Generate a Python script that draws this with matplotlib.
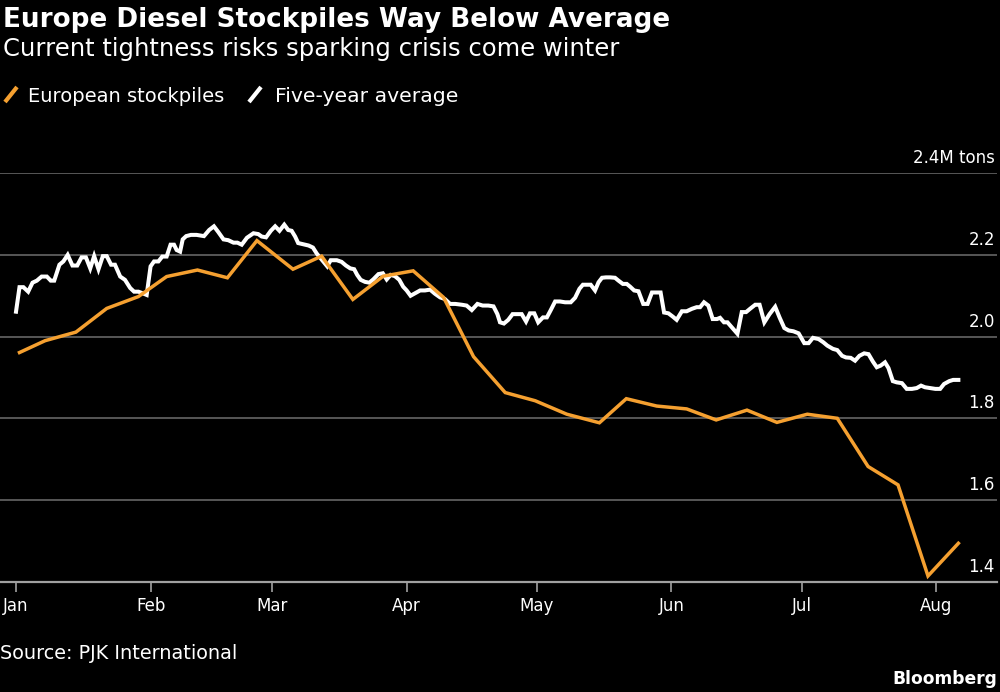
import numpy as np
import pandas as pd
import matplotlib
matplotlib.use("Agg")
import matplotlib.pyplot as plt
from matplotlib.lines import Line2D
import matplotlib.transforms as mtransforms

plt.rcParams["font.family"] = ["DejaVu Sans"]

# ---------------- data ----------------
title = "Europe Diesel Stockpiles Way Below Average"
subtitle = "Current tightness risks sparking crisis come winter"
series_names = ["European stockpiles", "Five-year average"]
source = "Source: PJK International"
start = pd.Timestamp("2022-01-01")

stock_days = [0.8, 6.7, 13.8, 20.9, 28.2, 34.7, 41.8, 48.7, 55.5, 63.8, 70.4, 77.6,
              84.6, 91.5, 98.5, 105.4, 112.7, 119.6, 126.9, 134.4, 140.6, 147.6,
              154.5, 161.3, 168.4, 175.3, 182.3, 189.2, 196.3, 203.2, 210.1, 217.1]
stock_values = [1.961, 1.990, 2.011, 2.069, 2.098, 2.147, 2.163, 2.144, 2.235, 2.165,
                2.197, 2.091, 2.148, 2.161, 2.096, 1.951, 1.863, 1.843, 1.810, 1.789,
                1.848, 1.830, 1.823, 1.796, 1.820, 1.790, 1.810, 1.800, 1.682, 1.637,
                1.414, 1.494]

avg_days = [0.0, 0.8, 1.7, 2.8, 3.8, 4.8, 5.9, 7.1, 8.0, 8.8,
            10.0, 10.9, 11.9, 13.0, 14.1, 15.1, 16.1, 17.1, 18.0, 19.0,
            20.0, 20.9, 21.9, 22.8, 24.0, 25.1, 26.3, 27.2, 28.2, 29.2,
            30.1, 31.0, 31.8, 32.8, 33.7, 34.7, 35.6, 36.4, 37.0, 37.8,
            38.4, 39.2, 40.3, 41.6, 43.3, 44.5, 45.6, 46.6, 47.8, 48.9,
            50.1, 51.0, 52.0, 53.2, 54.7, 55.8, 56.6, 57.6, 58.7, 59.7,
            60.7, 61.8, 62.7, 63.5, 64.3, 65.0, 66.2, 67.4, 68.4, 69.3,
            70.0, 71.7, 72.5, 73.9, 75.0, 76.0, 77.0, 77.9, 78.6, 79.4,
            80.4, 81.4, 82.3, 83.5, 84.5, 85.4, 86.3, 87.3, 88.3, 89.2,
            90.0, 90.9, 91.9, 93.1, 94.2, 95.4, 96.5, 97.7, 98.8, 100.0,
            101.2, 102.7, 103.8, 105.0, 106.3, 107.5, 108.8, 110.0, 110.9, 111.5,
            112.4, 113.4, 114.4, 115.4, 116.5, 117.5, 118.4, 119.4, 120.3, 121.4,
            122.3, 123.2, 124.2, 125.3, 126.5, 127.8, 128.8, 129.8, 130.6, 131.6,
            132.4, 133.4, 134.2, 135.0, 135.9, 136.9, 138.0, 138.8, 139.8, 140.7,
            141.5, 142.4, 143.4, 144.5, 145.5, 146.5, 147.6, 148.5, 149.3, 150.3,
            151.3, 152.2, 153.4, 154.5, 155.7, 156.8, 157.6, 158.5, 159.5, 160.5,
            161.5, 162.2, 163.1, 163.9, 164.9, 166.2, 167.2, 168.2, 169.1, 170.3,
            171.3, 172.4, 173.6, 174.9, 175.9, 177.0, 178.0, 179.1, 180.3, 181.6,
            182.6, 183.6, 184.9, 186.0, 186.9, 188.2, 189.2, 190.3, 191.2, 192.3,
            193.3, 194.3, 195.4, 196.4, 197.4, 198.3, 199.2, 200.2, 201.0, 202.0,
            202.9, 204.1, 205.2, 206.4, 207.5, 208.5, 209.4, 210.6, 211.8, 212.9,
            213.8, 215.0, 215.9, 217.1]
avg_values = [2.061, 2.121, 2.121, 2.110, 2.132, 2.137, 2.147, 2.147, 2.137, 2.137,
              2.176, 2.184, 2.200, 2.174, 2.174, 2.194, 2.194, 2.167, 2.197, 2.165,
              2.197, 2.197, 2.176, 2.176, 2.147, 2.139, 2.119, 2.110, 2.110, 2.106,
              2.102, 2.172, 2.184, 2.184, 2.196, 2.196, 2.225, 2.225, 2.212, 2.208,
              2.238, 2.246, 2.249, 2.249, 2.246, 2.261, 2.270, 2.256, 2.238, 2.236,
              2.230, 2.230, 2.225, 2.242, 2.253, 2.251, 2.245, 2.243, 2.259, 2.270,
              2.259, 2.274, 2.261, 2.259, 2.245, 2.229, 2.226, 2.223, 2.218, 2.203,
              2.194, 2.172, 2.187, 2.187, 2.183, 2.174, 2.167, 2.165, 2.151, 2.139,
              2.134, 2.132, 2.140, 2.153, 2.155, 2.140, 2.151, 2.148, 2.139, 2.122,
              2.113, 2.100, 2.106, 2.113, 2.113, 2.115, 2.105, 2.096, 2.092, 2.080,
              2.080, 2.078, 2.076, 2.065, 2.080, 2.076, 2.076, 2.074, 2.055, 2.035,
              2.032, 2.041, 2.055, 2.055, 2.055, 2.037, 2.057, 2.057, 2.035, 2.047,
              2.047, 2.065, 2.086, 2.086, 2.084, 2.084, 2.095, 2.117, 2.127, 2.127,
              2.127, 2.113, 2.133, 2.144, 2.145, 2.145, 2.144, 2.137, 2.129, 2.129,
              2.122, 2.113, 2.111, 2.080, 2.080, 2.108, 2.108, 2.108, 2.059, 2.057,
              2.049, 2.041, 2.062, 2.062, 2.068, 2.072, 2.072, 2.084, 2.076, 2.043,
              2.043, 2.046, 2.035, 2.035, 2.023, 2.007, 2.060, 2.060, 2.068, 2.078,
              2.078, 2.035, 2.055, 2.073, 2.047, 2.021, 2.015, 2.013, 2.008, 1.984,
              1.984, 1.997, 1.994, 1.986, 1.978, 1.970, 1.967, 1.953, 1.949, 1.948,
              1.941, 1.953, 1.959, 1.957, 1.939, 1.925, 1.929, 1.937, 1.923, 1.891,
              1.888, 1.886, 1.872, 1.872, 1.874, 1.880, 1.876, 1.874, 1.872, 1.872,
              1.884, 1.891, 1.894, 1.894]

month_labels = ["Jan", "Feb", "Mar", "Apr", "May", "Jun", "Jul", "Aug"]
y_ticks = [1.4, 1.6, 1.8, 2.0, 2.2, 2.4]
y_labels = ["1.4", "1.6", "1.8", "2.0", "2.2", "2.4M tons"]

# ---------------- style ----------------
BG = "#000000"
ORANGE = "#f5a030"
WHITE = "#ffffff"
GRID = "#5e5e5e"
AXIS = "#a0a0a0"
W, H = 1000, 692

fig = plt.figure(figsize=(10, 6.92), dpi=100, facecolor=BG)
ax = fig.add_axes([0.0, 0.1594, 0.997, 0.5903], facecolor=BG)

x_stock = (start + pd.to_timedelta(stock_days, unit="D")).to_numpy()
x_avg = (start + pd.to_timedelta(avg_days, unit="D")).to_numpy()

for v in y_ticks[1:]:
    ax.axhline(v, color=GRID, lw=1.3, zorder=1)

ax.plot(x_avg, avg_values, color=WHITE, lw=2.9, zorder=3, solid_joinstyle="miter")
ax.plot(x_stock, stock_values, color=ORANGE, lw=2.5, zorder=4, solid_joinstyle="miter")

ax.set_ylim(1.4, 2.4)
ax.set_xlim(start - pd.Timedelta(days=3.69), start + pd.Timedelta(days=226))

month_starts = pd.date_range(start, periods=len(month_labels), freq="MS").to_numpy()
ax.set_xticks(month_starts)
ax.set_xticklabels(month_labels)
ax.tick_params(axis="x", colors=AXIS, length=7, width=1.2, pad=4,
               labelcolor=WHITE, labelsize=12)
ax.set_yticks([])
for s in ["left", "right", "top"]:
    ax.spines[s].set_visible(False)
ax.spines["bottom"].set_color(AXIS)
ax.spines["bottom"].set_linewidth(1.6)

ytrans = mtransforms.blended_transform_factory(fig.transFigure, ax.transData)
ytrans = mtransforms.offset_copy(ytrans, fig=fig, y=10, units="dots")
for v, lab in zip(y_ticks, y_labels):
    ax.text(0.995, v, lab, transform=ytrans, ha="right", va="baseline",
            color=WHITE, fontsize=12, clip_on=False)

# ---------------- header / footer ----------------
def ftext(xpx, ypx, s, **kw):
    return fig.text(xpx / W, 1 - ypx / H, s, color=WHITE, va="baseline", **kw)

t_title = ftext(3, 27, title, fontsize=19, fontweight="bold")
t_sub = ftext(3, 56, subtitle, fontsize=16)
t_leg1 = ftext(28, 102, series_names[0], fontsize=13.5)
t_leg2 = ftext(275, 102, series_names[1], fontsize=13.5)
t_src = ftext(0, 659, source, fontsize=13)
t_bb = ftext(997, 684, "Bloomberg", fontsize=13, fontweight="bold", ha="right")

fig.add_artist(Line2D([5 / W, 17 / W], [1 - 102 / H, 1 - 87 / H], color=ORANGE,
                      lw=3, transform=fig.transFigure, solid_capstyle="butt"))
fig.add_artist(Line2D([249 / W, 261 / W], [1 - 102 / H, 1 - 87 / H], color=WHITE,
                      lw=3, transform=fig.transFigure, solid_capstyle="butt"))

# fit header/footer text widths to the reference layout
fig.canvas.draw()
renderer = fig.canvas.get_renderer()
for t, target in [(t_title, 667), (t_sub, 617), (t_leg1, 197), (t_leg2, 183),
                  (t_src, 238), (t_bb, 104)]:
    wpx = t.get_window_extent(renderer).width
    t.set_fontsize(t.get_fontsize() * target / wpx)

fig.savefig("out.png", dpi=100, facecolor=BG)
